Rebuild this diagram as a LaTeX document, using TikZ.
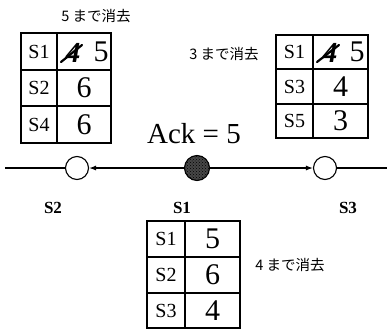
\documentclass[tikz,border=0pt]{standalone}
\usepackage{fontspec}
\setmainfont{Liberation Serif}
\newfontfamily\jpfont{Noto Sans CJK JP}
\usetikzlibrary{arrows.meta,patterns}

\begin{document}
\begin{tikzpicture}[x=1pt,y=-1pt,
  tablerule/.style={line width=1.5pt},
  lab/.style={font=\fontsize{20}{20}\selectfont, inner sep=0pt},
  val/.style={font=\fontsize{30}{30}\selectfont, inner sep=0pt},
  old/.style={font=\bfseries\itshape\fontsize{29}{29}\selectfont, inner sep=0pt},
  strike/.style={line width=2.2pt, line cap=round},
  note/.style={font=\jpfont\fontsize{14.5}{15}\selectfont, inner sep=0pt},
  site/.style={circle, draw, line width=1.1pt, minimum size=23pt, inner sep=0pt},
  sitelabel/.style={font=\bfseries\fontsize{17}{17}\selectfont, inner sep=0pt},
  wire/.style={line width=1.2pt},
  link/.style={wire, -{Latex[length=7pt,width=5pt]}}
]
\useasboundingbox (0,0) rectangle (387,332);

% ---- table held at S2 ----
\draw[tablerule] (21,33) rectangle (111,143);
\draw[tablerule] (57,33) -- (57,143) (21,70) -- (111,70) (21,106) -- (111,106);
\node[note] (noteL) at (96,16) {5 まで消去};
\node[lab] (lk1) at (39,52) {S1};
\node[old] (lo1) at (73,53) {4};
\draw[strike] (61,62) -- (82,45);
\node[val] (lv1) at (101,52) {5};
\node[lab] (lk2) at (39,88) {S2};
\node[val] (lv2) at (84,88) {6};
\node[lab] (lk3) at (39,125) {S4};
\node[val] (lv3) at (84,125) {6};

% ---- table held at S3 ----
\draw[tablerule] (276,35) rectangle (368,138);
\draw[tablerule] (313,35) -- (313,138) (276,69) -- (368,69) (276,104) -- (368,104);
\node[note] (noteR) at (224,54) {3 まで消去};
\node[lab] (rk1) at (294.5,52) {S1};
\node[old] (ro1) at (330,53) {4};
\draw[strike] (317,62) -- (339,45);
\node[val] (rv1) at (357,52) {5};
\node[lab] (rk2) at (294.5,87) {S3};
\node[val] (rv2) at (340.5,87) {4};
\node[lab] (rk3) at (294.5,121) {S5};
\node[val] (rv3) at (340.5,121) {3};

% ---- ack value ----
\node[font=\fontsize{29}{29}\selectfont, inner sep=0pt, anchor=base] (ack) at (194,143) {Ack = 5};

% ---- the three sites on the ring ----
\node[site] (s2) at (77,168) {};
\node[site, minimum size=25pt, fill=black!72, postaction={pattern=crosshatch dots, pattern color=black}] (s1) at (197,168) {};
\node[site] (s3) at (325,168) {};
\coordinate (lend) at (5,168);
\coordinate (rend) at (387,168);
\draw[wire] (lend) -- (s2.west);
\draw[wire] (s3.east) -- (rend);
\draw[link] (s1.west) -- (s2.east);
\draw[link] (s1.east) -- (s3.west);

\node[sitelabel] (n2) at (53,208) {S2};
\node[sitelabel] (n1) at (182,208) {S1};
\node[sitelabel] (n3) at (348,208) {S3};

% ---- table held at S1 ----
\draw[tablerule] (147,221) rectangle (240,328);
\draw[tablerule] (185,221) -- (185,328) (147,257) -- (240,257) (147,293) -- (240,293);
\node[note] (noteB) at (290,265) {4 まで消去};
\node[lab] (bk1) at (166,239) {S1};
\node[val] (bv1) at (212.5,239) {5};
\node[lab] (bk2) at (166,275) {S2};
\node[val] (bv2) at (212.5,275) {6};
\node[lab] (bk3) at (166,310.5) {S3};
\node[val] (bv3) at (212.5,310.5) {4};
\end{tikzpicture}
\end{document}
